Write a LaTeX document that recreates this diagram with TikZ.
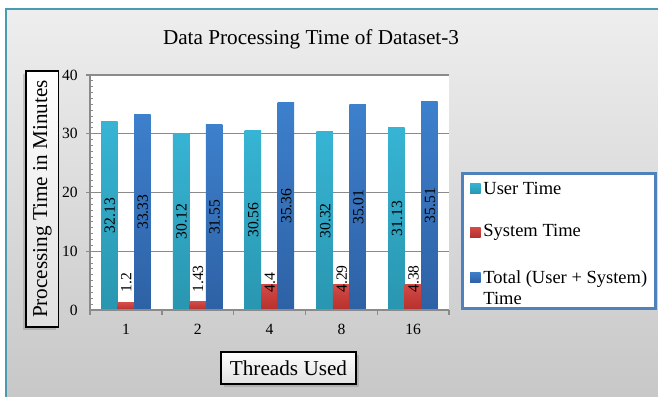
\documentclass[tikz,border=0pt]{standalone}
\usepackage{fontspec}
\setmainfont{Liberation Serif}
\usetikzlibrary{shadows, positioning}
\definecolor{userTop}{HTML}{37B4D4}
\definecolor{userBot}{HTML}{2996B0}
\definecolor{sysTop}{HTML}{D44A46}
\definecolor{sysBot}{HTML}{B5302C}
\definecolor{totTop}{HTML}{3D80CC}
\definecolor{totBot}{HTML}{2E61A5}
\definecolor{bgTop}{HTML}{EEEEEE}
\definecolor{bgBot}{HTML}{C6C6C6}
\definecolor{frameC}{HTML}{4A9AB2}
\definecolor{legC}{HTML}{4F81BD}
\definecolor{gridC}{HTML}{8A8A8A}
\tikzset{
  TitleBox/.style = {
    draw, line width = 0.8pt, inner sep = 0pt,
    top color = white, bottom color = black!12,
    font = \fontsize{10.6}{12}\selectfont,
  },
  UserBar/.style = {top color = userTop, bottom color = userBot},
  SysBar/.style = {top color = sysTop, bottom color = sysBot},
  TotBar/.style = {top color = totTop, bottom color = totBot},
  DataLbl/.style = {rotate = 90, inner sep = 0pt, font = \fontsize{7.8}{9}\selectfont},
  TickLbl/.style = {inner sep = 0pt, font = \fontsize{7.8}{9}\selectfont},
  LegLbl/.style = {anchor = west, inner sep = 0pt, font = \fontsize{9.25}{10.5}\selectfont},
  GridLn/.style = {draw = gridC, line width = 0.7pt},
}
\begin{document}
\begin{tikzpicture}[x = 0.5pt, y = -0.5pt]
  \useasboundingbox (0,0) rectangle (658,396);
  \clip (0,0) rectangle (658,396);
  \fill[white] (0,0) rectangle (658,396);
  \shade[top color = bgTop, bottom color = bgBot, draw = frameC, line width = 1pt]
    (6,9) rectangle (672,412);
  \node[font = \fontsize{10.6}{12}\selectfont] (title) at (311,39) {Data Processing Time of Dataset-3};
  \fill[white] (90,75) rectangle (449,310);
  \foreach \v in {10,20,30,40}
    \draw[GridLn] (86,{310-5.875*\v}) -- (449,{310-5.875*\v});
  \foreach \v in {1,...,39}
    \draw[draw = gridC, line width = 0.4pt] (90,{310-5.875*\v}) -- (92.5,{310-5.875*\v});
  \foreach \v in {0,10,...,40}
    \node[TickLbl, anchor = east] (y\v) at (78,{310-5.875*\v}) {\v};
  \foreach \t/\u/\s/\m [count = \i from 0] in
      {1/32.13/1.2/33.33, 2/30.12/1.43/31.55, 4/30.56/4.4/35.36,
       8/30.32/4.29/35.01, 16/31.13/4.38/35.51} {
    \pgfmathsetmacro\xl{90+71.8*\i}
    \shade[UserBar] (\xl+11,310) rectangle (\xl+27.5,{310-5.875*\u});
    \shade[SysBar] (\xl+27.5,310) rectangle (\xl+44,{310-5.875*\s});
    \shade[TotBar] (\xl+44,310) rectangle (\xl+60.5,{310-5.875*\m});
    \node[DataLbl] (u\i) at (\xl+19.8,{310-5.875*\u/2}) {\u};
    \node[DataLbl, anchor = west] (s\i) at (\xl+36.3,293) {\s};
    \node[DataLbl] (m\i) at (\xl+52.8,{310-5.875*\m/2}) {\m};
    \node[TickLbl] (x\i) at (\xl+36,329) {\t};
  }
  \draw[GridLn] (90,75) -- (90,310) -- (449,310);
  \foreach \i in {0,...,5}
    \draw[GridLn] ({90+71.8*\i},310) -- ({90+71.8*\i},315);
  \node[TitleBox, rotate = 90, minimum width = 128pt, minimum height = 16.3pt,
    drop shadow = {shadow xshift = -1.5pt, shadow yshift = -1.5pt, opacity = 0.35}]
    (ytitle) at (42.3,199) {Processing Time in Minutes};
  \node[TitleBox, minimum width = 67.5pt, minimum height = 16pt,
    drop shadow = {shadow xshift = 1.5pt, shadow yshift = -1.5pt, opacity = 0.35}]
    (xtitle) at (288.5,368) {Threads Used};
  \draw[draw = legC, line width = 1.5pt, fill = white] (462,173.5) rectangle (655.5,308.5);
  \shade[UserBar] (470,183) rectangle (480.5,193.5);
  \shade[SysBar] (470,227) rectangle (480.5,237.5);
  \shade[TotBar] (470,272) rectangle (480.5,282.5);
  \node[LegLbl] (lu) at (483,188) {User Time};
  \node[LegLbl] (ls) at (483,232) {System Time};
  \node[LegLbl, align = left] (lt) at (483,287.5) {Total (User + System)\\Time};
\end{tikzpicture}
\end{document}
